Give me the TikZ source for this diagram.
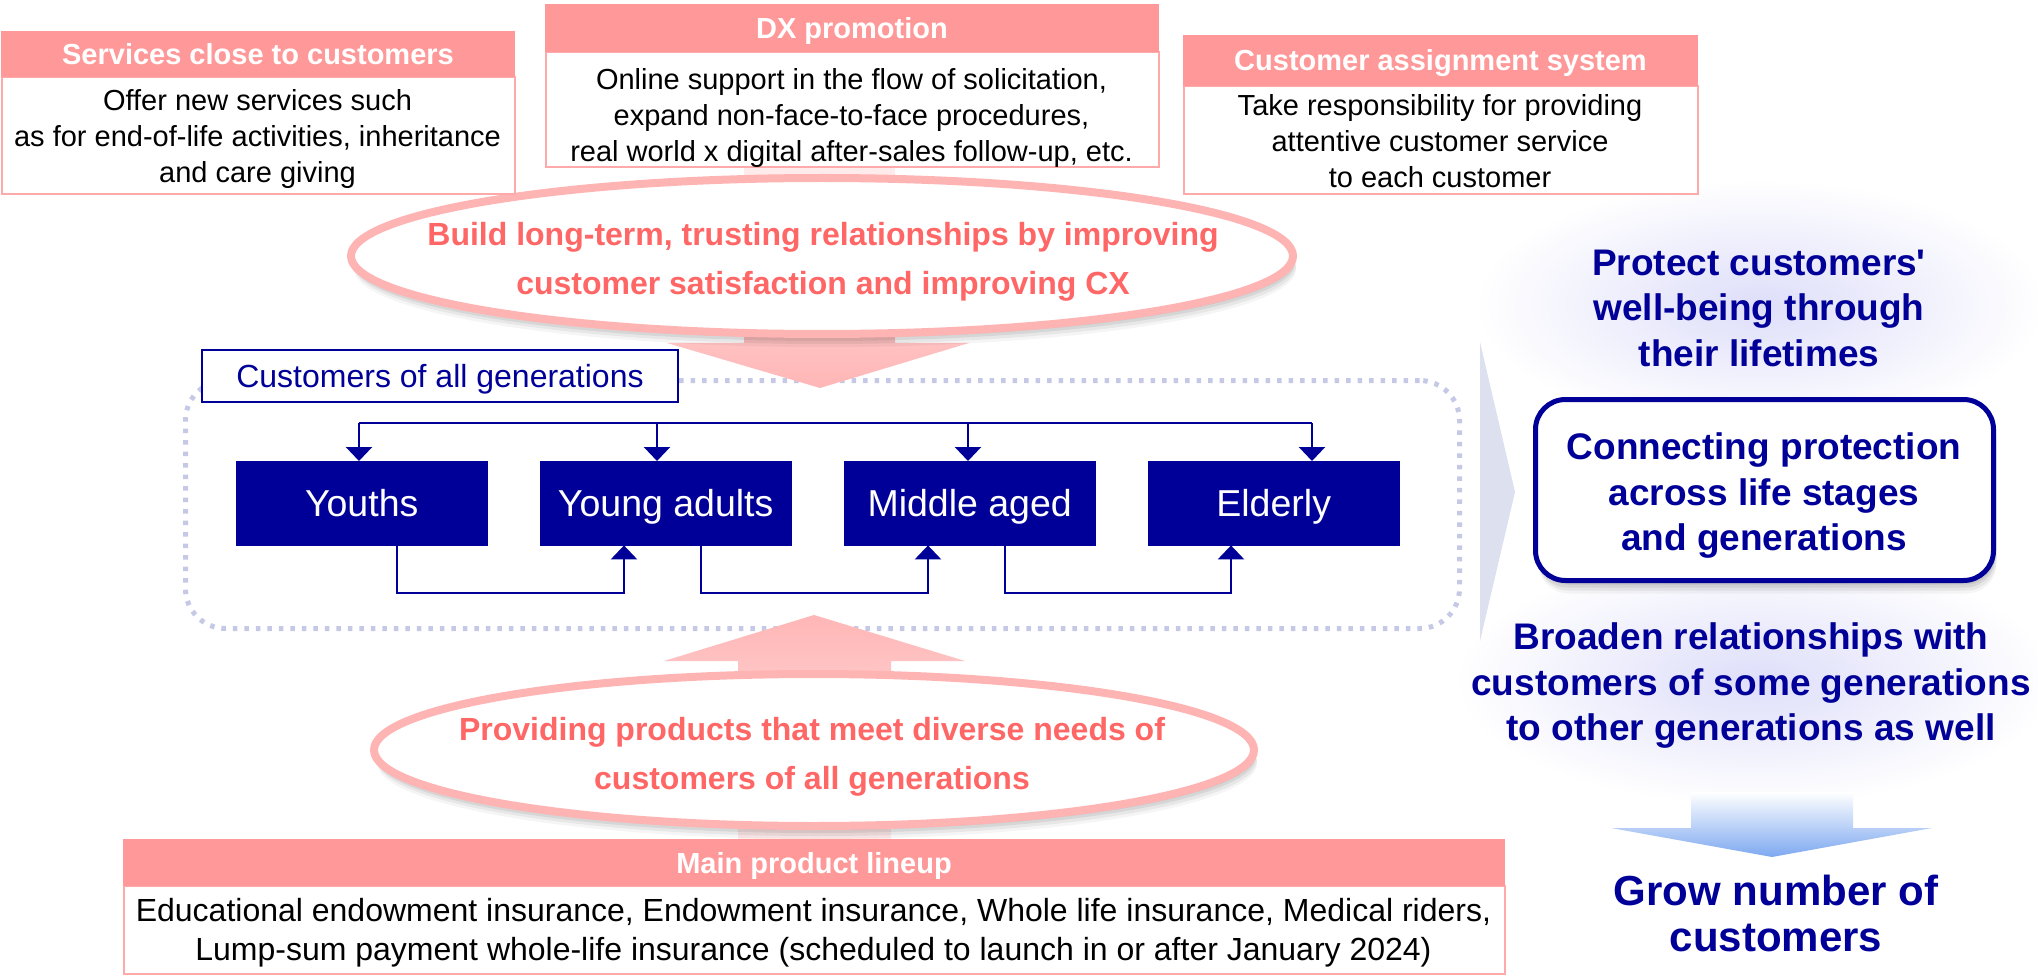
\documentclass[tikz,border=0pt]{standalone}
\usepackage{fontspec}
\setmainfont{Liberation Sans}[Ligatures=TeXOff]
\usetikzlibrary{arrows.meta,calc,shadows,shapes.geometric}
\definecolor{navy}{RGB}{0,0,153}
\definecolor{hdrpink}{RGB}{255,153,153}
\definecolor{edgepink}{RGB}{255,170,170}
\definecolor{ringpink}{RGB}{255,180,180}
\definecolor{txtpink}{RGB}{255,102,102}
\definecolor{arrpink}{RGB}{255,182,182}
\definecolor{arrlight}{RGB}{255,236,236}
\definecolor{dotlav}{RGB}{197,201,230}
\definecolor{chev}{RGB}{220,224,239}
\definecolor{glow}{RGB}{222,222,250}
\definecolor{arrblue}{RGB}{125,168,240}
\newcommand\ftHdr{\bfseries\fontsize{29}{34}\selectfont}
\newcommand\ftBody{\fontsize{29}{36}\selectfont}
\newcommand\ftEll{\bfseries\fontsize{32}{49}\selectfont}
\newcommand\ftLbl{\fontsize{32}{36}\selectfont}
\newcommand\ftGen{\fontsize{37.5}{40}\selectfont}
\newcommand\ftBig{\bfseries\fontsize{37}{45.5}\selectfont}
\newcommand\ftGrow{\bfseries\fontsize{42}{46}\selectfont}
\newcommand\ftProd{\fontsize{32}{39}\selectfont}
\begin{document}
\begin{tikzpicture}[x=1pt,y=-1pt,
  hdr/.style={fill=hdrpink, draw=hdrpink, line width=1pt, text=white, font=\ftHdr,
    text height=21pt, text depth=0pt, inner sep=0pt, anchor=north west},
  bodybox/.style={fill=white, draw=edgepink, line width=2pt, inner sep=0pt, anchor=north west},
  bodytxt/.style={font=\ftBody, align=center, text=black, inner sep=0pt},
  softshadow/.style={
    drop shadow={shadow xshift=2pt, shadow yshift=-4pt, opacity=0.07, fill=black},
    drop shadow={shadow xshift=2pt, shadow yshift=-7pt, opacity=0.07, fill=black},
    drop shadow={shadow xshift=3pt, shadow yshift=-10pt, opacity=0.06, fill=black},
    drop shadow={shadow xshift=3pt, shadow yshift=-13pt, opacity=0.04, fill=black}},
  ring/.style={ellipse, draw=ringpink, line width=8pt, fill=white, inner sep=0pt, softshadow},
  elltxt/.style={font=\ftEll, align=center, text=txtpink, inner sep=0pt},
  gen/.style={fill=navy, draw=navy, text=white, font=\ftGen, text height=27pt, text depth=0pt,
    inner sep=0pt, minimum width=251pt, minimum height=84pt, anchor=north west},
  link/.style={draw=navy, line width=2.5pt},
  linkarr/.style={link, -{Triangle[width=26pt,length=14pt]}},
  bigtxt/.style={font=\ftBig, align=center, text=navy, inner sep=0pt},
]
\useasboundingbox (0,0) rectangle (2038,976);

% glows on the right
\shade[inner color=glow, outer color=white] (1760,305) ellipse [x radius=285pt, y radius=125pt];
\shade[inner color=glow, outer color=white] (1755,680) ellipse [x radius=300pt, y radius=125pt];

% dotted frame of all generations
\node (allgen) [draw=dotlav, line width=5pt, dash pattern=on 4.5pt off 7pt, rounded corners=40pt,
  minimum width=1274pt, minimum height=248pt, inner sep=0pt, anchor=north west] at (183,378) {};

% top big pink arrow (behind ellipse)
\shade[top color=arrlight, bottom color=arrpink]
  (744,166) -- (895,166) -- (895,343) -- (969,343) -- (820,388) -- (667,343) -- (744,343) -- cycle;

% top ellipse
\node (topring) [ring, minimum width=942pt, minimum height=156pt] at (822,256) {};
\node (toptxt) [elltxt] at (823,262) {Build long-term, trusting relationships by improving\\customer satisfaction and improving CX};

% top boxes
\node (b1body) [bodybox, minimum width=513pt, minimum height=117pt] at (1,76) {};
\node (b1head) [hdr, minimum width=513pt, minimum height=45pt] at (1,31) {Services close to customers};
\node (b1txt) [bodytxt] at (257.5,139) {Offer new services such\\as for end-of-life activities, inheritance\\and care giving};

\node (b2body) [bodybox, minimum width=613pt, minimum height=115pt] at (545,51) {};
\node (b2head) [hdr, minimum width=613pt, minimum height=47pt] at (545,4) {DX promotion};
\node (b2txt) [bodytxt] at (851.5,118) {Online support in the flow of solicitation,\\expand non-face-to-face procedures,\\real world x digital after-sales follow-up, etc.};

\node (b3body) [bodybox, minimum width=514pt, minimum height=108pt] at (1183,85) {};
\node (b3head) [hdr, minimum width=514pt, minimum height=50pt] at (1183,35) {Customer assignment system};
\node (b3txt) [bodytxt] at (1440,141) {Take responsibility for providing\\attentive customer service\\to each customer};

% label of the generations frame
\node (lbl) [draw=navy, line width=2pt, fill=white, minimum width=476pt, minimum height=52pt,
  inner sep=0pt, anchor=north west, text=navy, font=\ftLbl, text height=23pt, text depth=0pt]
  at (201,349) {Customers of all generations};

% generation boxes
\node (youths) [gen] at (236,461) {Youths};
\node (young)  [gen] at (540,461) {Young adults};
\node (middle) [gen] at (844,461) {Middle aged};
\node (elder)  [gen] at (1148,461) {Elderly};

% bus on top
\coordinate (t1) at (359,423);
\coordinate (t2) at (657,423);
\coordinate (t3) at (968,423);
\coordinate (t4) at (1312,423);
\draw[link] (t1) -- (t4);
\draw[linkarr] (t1) -- (t1 |- youths.north);
\draw[linkarr] (t2) -- (t2 |- young.north);
\draw[linkarr] (t3) -- (t3 |- middle.north);
\draw[linkarr] (t4) -- (t4 |- elder.north);

% connectors below
\coordinate (c1) at (397,593);
\coordinate (d1) at (624,593);
\coordinate (c2) at (701,593);
\coordinate (d2) at (928,593);
\coordinate (c3) at (1005,593);
\coordinate (d3) at (1231,593);
\draw[linkarr] (c1 |- youths.south) -- (c1) -- (d1) -- (d1 |- young.south);
\draw[linkarr] (c2 |- young.south) -- (c2) -- (d2) -- (d2 |- middle.south);
\draw[linkarr] (c3 |- middle.south) -- (c3) -- (d3) -- (d3 |- elder.south);

% lower pink arrow
\shade[top color=arrpink, bottom color=arrlight]
  (814,615) -- (965,661) -- (891,661) -- (891,839) -- (738,839) -- (738,661) -- (664,661) -- cycle;

% lower ellipse
\node (lowring) [ring, minimum width=880pt, minimum height=152pt] at (814,750) {};
\node (lowtxt) [elltxt] at (812,757) {Providing products that meet diverse needs of\\customers of all generations};

% product box
\node (pbody) [bodybox, minimum width=1381pt, minimum height=88pt] at (123,885) {};
\node (phead) [hdr, minimum width=1381pt, minimum height=46pt] at (123,839) {Main product lineup};
\node (ptxt) [font=\ftProd, align=center, inner sep=0pt] at (813.5,933) {Educational endowment insurance, Endowment insurance, Whole life insurance, Medical riders,\\Lump-sum payment whole-life insurance (scheduled to launch in or after January 2024)};

% right side
\fill[chev] (1480,342) -- (1515,492) -- (1480,641) -- cycle;
\node (protect) [bigtxt] at (1759,308) {Protect customers'\\well-being through\\their lifetimes};
\node (connbox) [draw=navy, line width=5pt, rounded corners=30pt, fill=white, inner sep=0pt,
  minimum width=458pt, minimum height=181pt, softshadow] at (1764.5,490) {};
\node (conntxt) [bigtxt] at (1764,496) {Connecting protection\\across life stages\\and generations};
\node (broaden) [bigtxt] at (1751,686) {Broaden relationships with\\customers of some generations\\to other generations as well};
\shade[top color=white, bottom color=arrblue]
  (1691,792) -- (1853,792) -- (1853,828) -- (1932,828) -- (1772,857) -- (1611,828) -- (1691,828) -- cycle;
\node (grow) [font=\ftGrow, align=center, text=navy, inner sep=0pt] at (1776,913) {Grow number of\\customers};
\end{tikzpicture}
\end{document}
